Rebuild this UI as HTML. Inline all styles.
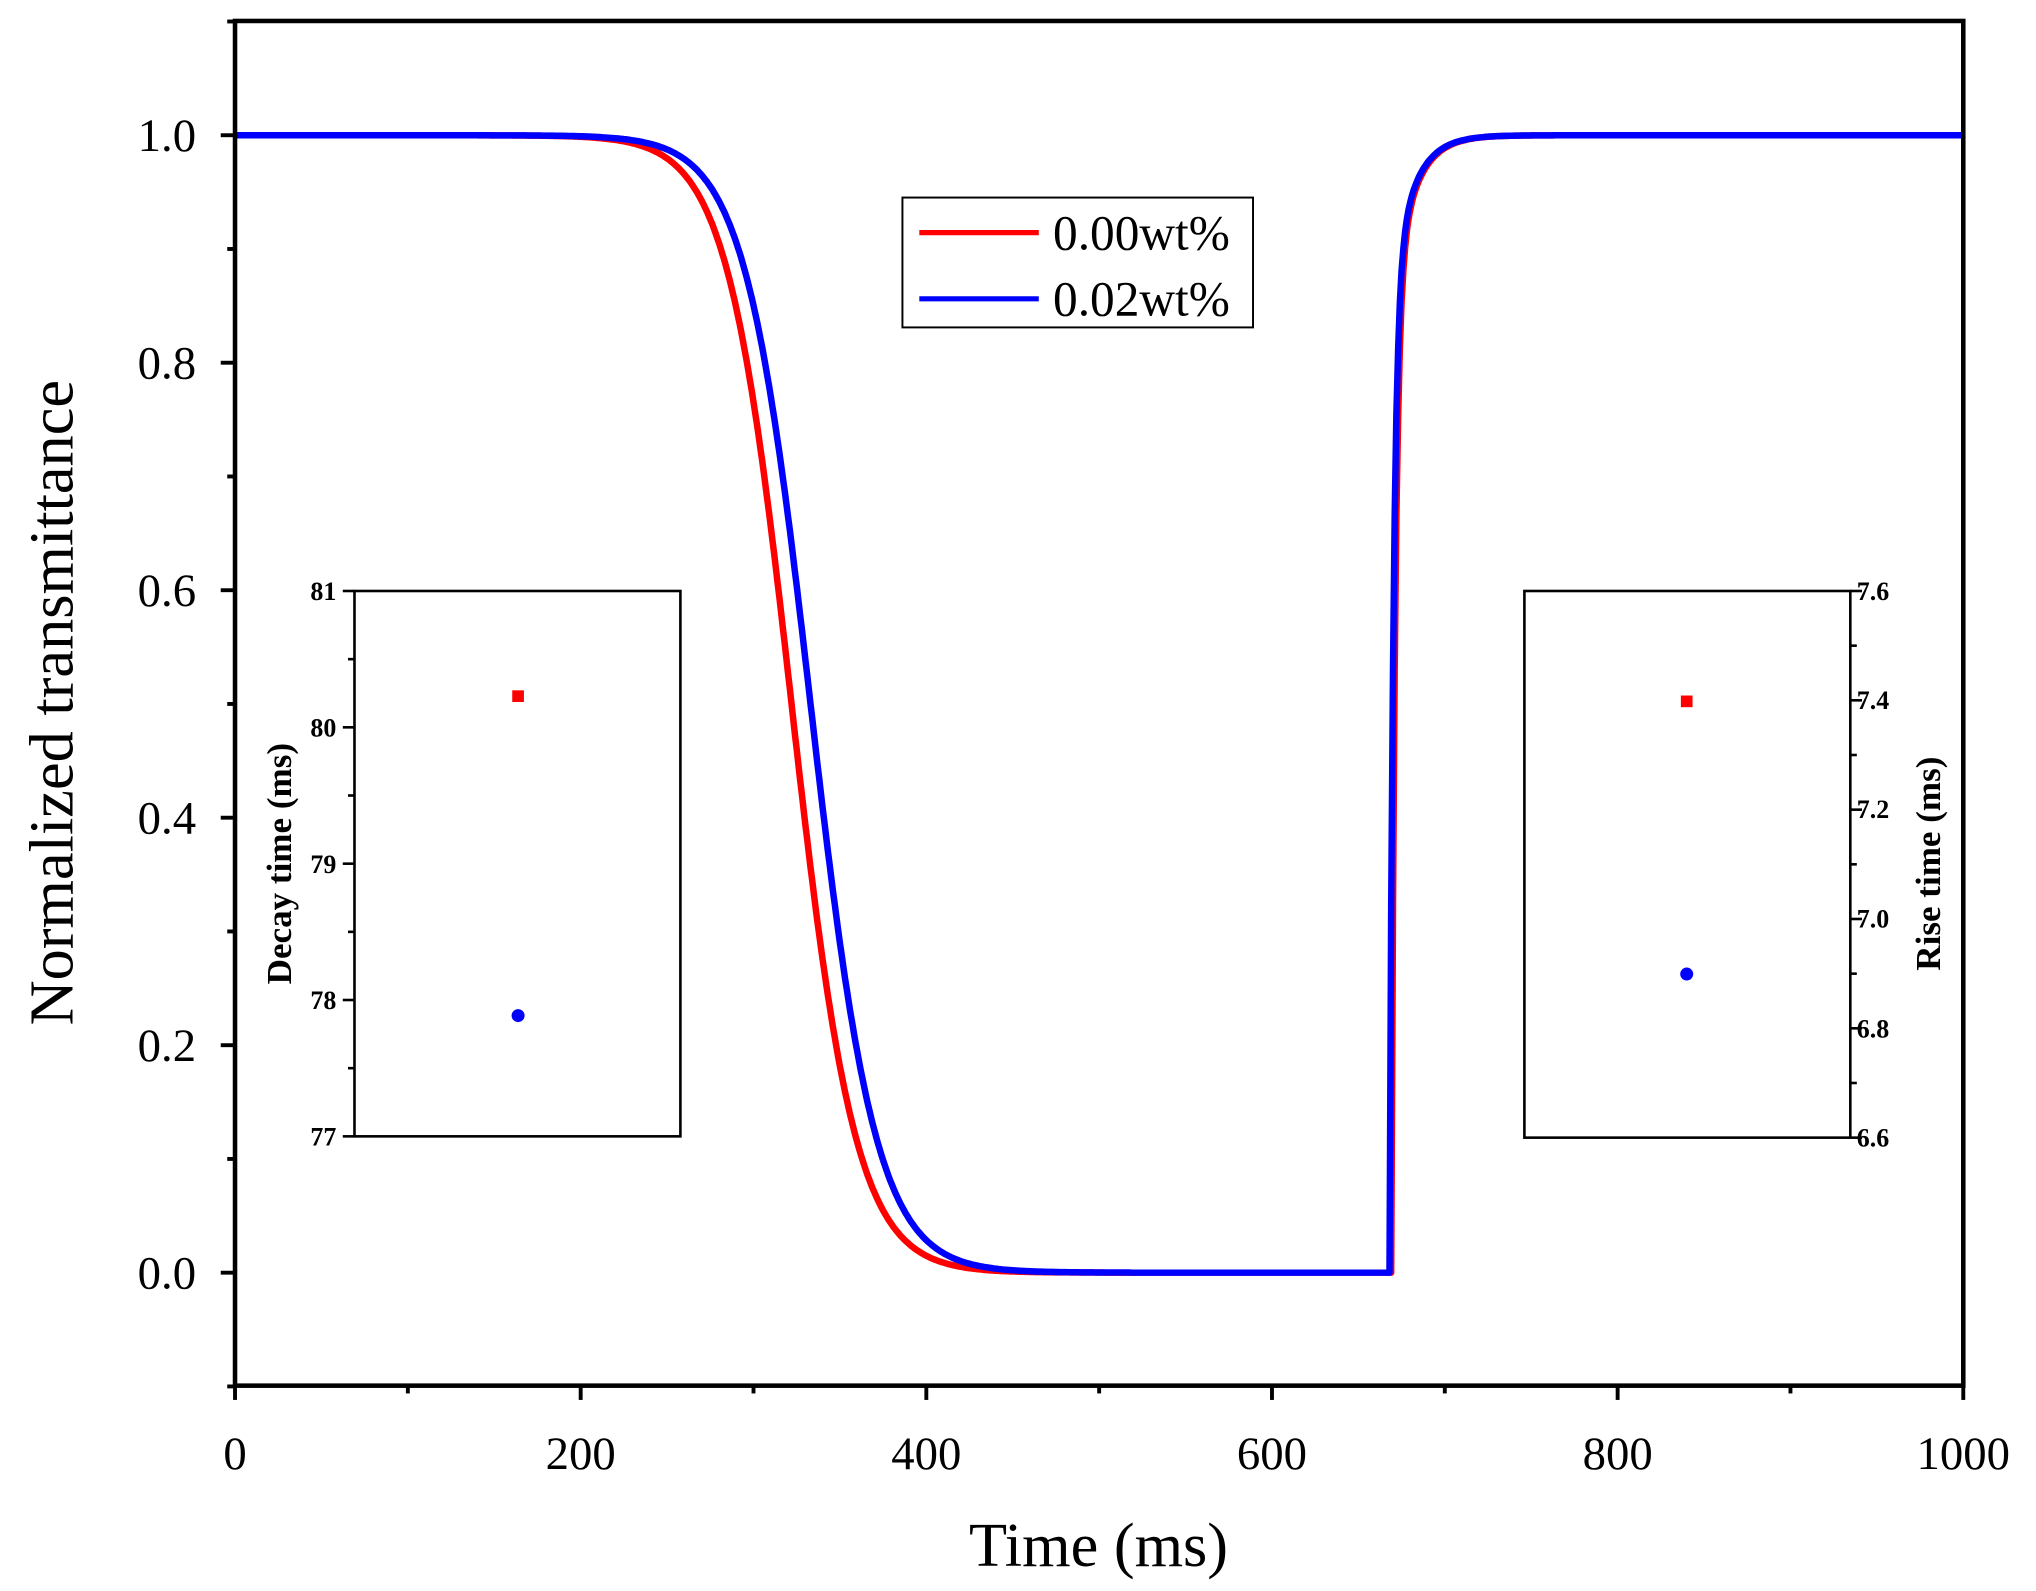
<!DOCTYPE html>
<html><head><meta charset="utf-8"><style>html,body{margin:0;padding:0;background:#fff}svg{display:block}</style></head>
<body>
<svg id="s" width="2036" height="1591" viewBox="0 0 1568 1225" xmlns="http://www.w3.org/2000/svg" font-family="Liberation Serif, serif">
<rect width="1568" height="1225" fill="#fff"/>
<g id="curves" fill="none" stroke-width="5" stroke-linejoin="round"></g>
<rect x="181" y="16" width="1331" height="1051" fill="none" stroke="#000" stroke-width="3.5"/>
<g id="ticks" stroke="#000" stroke-width="3"></g>
<g id="labels" font-size="36" fill="#000"></g>
<text x="846" y="1206" font-size="48" text-anchor="middle">Time (ms)</text>
<text transform="translate(56,541) rotate(-90)" font-size="48" text-anchor="middle">Normalized transmittance</text>
<!-- legend -->
<rect x="695" y="152" width="270" height="100" fill="#fff" stroke="#000" stroke-width="1.5"/>
<line x1="708" y1="179" x2="800" y2="179" stroke="#f00" stroke-width="4"/>
<line x1="708" y1="230" x2="800" y2="230" stroke="#00f" stroke-width="4"/>
<text x="811" y="192" font-size="38">0.00wt%</text>
<text x="811" y="243" font-size="38">0.02wt%</text>
<!-- inset 1 -->
<rect x="273" y="455" width="251" height="420" fill="#fff" stroke="#000" stroke-width="2"/>
<g id="in1" stroke="#000" stroke-width="2"></g>
<g font-size="20" font-weight="bold" text-anchor="end">
<text x="259" y="462">81</text><text x="259" y="567">80</text><text x="259" y="672">79</text><text x="259" y="777">78</text><text x="259" y="882">77</text>
</g>
<text transform="translate(224,665) rotate(-90)" font-size="27" font-weight="bold" text-anchor="middle">Decay time (ms)</text>
<rect x="394.5" y="531.5" width="9" height="9" fill="#f00"/>
<circle cx="399" cy="782" r="5" fill="#00f"/>
<!-- inset 2 -->
<rect x="1174" y="455" width="251" height="421" fill="#fff" stroke="#000" stroke-width="2"/>
<g id="in2" stroke="#000" stroke-width="2"></g>
<g font-size="20" font-weight="bold">
<text x="1430" y="462">7.6</text><text x="1430" y="546">7.4</text><text x="1430" y="630">7.2</text><text x="1430" y="714">7.0</text><text x="1430" y="799">6.8</text><text x="1430" y="883">6.6</text>
</g>
<text transform="translate(1494,665) rotate(-90)" font-size="27" font-weight="bold" text-anchor="middle">Rise time (ms)</text>
<rect x="1294.5" y="535.5" width="9" height="9" fill="#f00"/>
<circle cx="1299" cy="750" r="5" fill="#00f"/>
</svg>
<script>
var NS="http://www.w3.org/2000/svg";
function el(p,t,a){var e=document.createElementNS(NS,t);for(var k in a)e.setAttribute(k,a[k]);p.appendChild(e);return e;}
var X=function(t){return 181+t*1.331;}, Y=function(v){return 980-v*876;};
var tk=document.getElementById('ticks'), lb=document.getElementById('labels');
for(var t=0;t<=1000;t+=100){var maj=t%200==0;el(tk,'line',{x1:X(t),x2:X(t),y1:1067,y2:1067+(maj?11:6)});
 if(maj){var e=el(lb,'text',{x:X(t),y:1131,'text-anchor':'middle'});e.textContent=t;}}
for(var i=-1;i<=11;i++){var v=i/10,maj=(i%2==0);el(tk,'line',{x1:181,x2:181-(maj?11:6),y1:Y(v),y2:Y(v)});
 if(maj&&i>=0&&i<=10){var e=el(lb,'text',{x:151,y:Y(v)+12,'text-anchor':'end'});e.textContent=v.toFixed(1);}}
var i1=document.getElementById('in1');
for(var k=0;k<=8;k++){var y=455+k*52.5;el(i1,'line',{x1:273,x2:273-(k%2==0?9:5),y1:y,y2:y});}
var i2=document.getElementById('in2');
for(var k=0;k<=10;k++){var y=455+k*42.1;el(i2,'line',{x1:1425,x2:1425+(k%2==0?9:5),y1:y,y2:y});}
function curve(t0,w,tr,col){var pts=[];for(var t=0;t<=1000;t+=1){var v;
 if(t<tr){v=1/(1+Math.exp((t-t0)/w));}
 else{var d=t-tr;v=0.85*(1-Math.exp(-d/2.2))+0.15*(1-Math.exp(-d/12));}
 pts.push(X(t).toFixed(1)+','+Y(v).toFixed(1));}
 el(document.getElementById('curves'),'polyline',{points:pts.join(' '),stroke:col});}
curve(322,18.6,669,'#f00');curve(333,19,668,'#00f');
</script>
</body></html>
